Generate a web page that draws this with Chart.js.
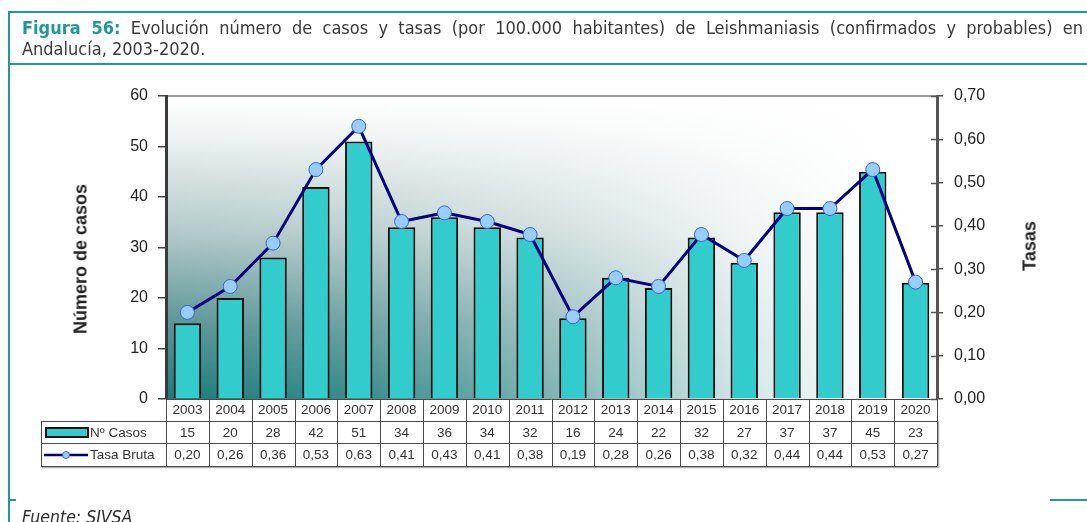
<!DOCTYPE html>
<html><head><meta charset="utf-8">
<script src="https://cdn.jsdelivr.net/npm/chart.js@4.4.0/dist/chart.umd.min.js"></script>
<style>
html,body{margin:0;padding:0;background:#fff;}
body{width:1087px;height:522px;overflow:hidden;position:relative;font-family:'Liberation Sans',Arial,sans-serif;}
.tl{position:absolute;background:#1f9a96;}
#title{position:absolute;left:22px;top:17px;width:1061px;font-family:'Liberation Sans Narrow','DejaVu Sans Condensed','Liberation Sans',sans-serif;font-size:18px;line-height:21px;color:#3a3a3a;}
#title .l1{text-align:justify;text-align-last:justify;}
#fig{color:#1f9a96;font-weight:bold;}
#foot{position:absolute;left:22px;top:507px;font-family:'Liberation Sans Narrow','DejaVu Sans Condensed','Liberation Sans',sans-serif;font-style:italic;font-size:17.5px;line-height:21px;color:#2a2a2a;white-space:nowrap;}
canvas{position:absolute;left:0;top:0;}
.at{position:absolute;transform:translate(-50%,-50%) rotate(-90deg);font-weight:bold;font-size:18px;color:#222;white-space:nowrap;font-family:'Liberation Sans',Arial,sans-serif;}
</style></head>
<body>
<canvas id="c" width="1087" height="522"></canvas>
<div class="tl" style="left:8px;top:11px;width:1079px;height:2px;"></div>
<div class="tl" style="left:8px;top:11px;width:2px;height:511px;"></div>
<div class="tl" style="left:8px;top:63px;width:1079px;height:2px;"></div>
<div class="tl" style="left:8px;top:499px;width:8px;height:2px;"></div>
<div class="tl" style="left:1050px;top:499px;width:37px;height:2px;"></div>
<div id="title"><div class="l1"><span id="fig">Figura 56:</span> Evolución número de casos y tasas (por 100.000 habitantes) de Leishmaniasis (confirmados y probables) en</div><div>Andalucía, 2003-2020.</div></div>
<div class="at" style="left:81px;top:259px;">Número de casos</div>
<div class="at" style="left:1030px;top:246px;">Tasas</div>
<div id="foot">Fuente: SIVSA</div>
<script>
const years = ['2003','2004','2005','2006','2007','2008','2009','2010','2011','2012','2013','2014','2015','2016','2017','2018','2019','2020'];
const casos = [15,20,28,42,51,34,36,34,32,16,24,22,32,27,37,37,45,23];
const tasas = [0.20,0.26,0.36,0.53,0.63,0.41,0.43,0.41,0.38,0.19,0.28,0.26,0.38,0.32,0.44,0.44,0.53,0.27];
const casosTickValues = [0,10,20,30,40,50,60];
const casosTickLabels = ['0','10','20','30','40','50','60'];
const tasasTickValues = [0,0.1,0.2,0.3,0.4,0.5,0.6,0.7];
const tasasTickLabels = ['0,00','0,10','0,20','0,30','0,40','0,50','0,60','0,70'];
const seriesNames = ['Nº Casos','Tasa Bruta'];

const fmt = v => v.toFixed(2).replace('.', ',');
const TABLE_FONT = '13.5px "Liberation Sans", Arial, sans-serif';
const BAR_COLOR = '#33CCCC', LINE_COLOR = '#000080', PT_FILL = '#99CCFF', PT_BORDER = '#3366CC';

const bgPlugin = {
  id: 'bg',
  beforeDraw(chart) {
    const {ctx, chartArea: a} = chart;
    ctx.save();
    const g = ctx.createLinearGradient(0, a.top, 0, a.bottom);
    g.addColorStop(0, '#ffffff');
    g.addColorStop(0.12, '#f1f4f4');
    g.addColorStop(0.45, '#b3c9c9');
    g.addColorStop(0.75, '#5c9696');
    g.addColorStop(1, '#1c7c7c');
    ctx.fillStyle = g;
    ctx.fillRect(a.left, a.top, a.right - a.left, a.bottom - a.top);
    const h = ctx.createLinearGradient(a.left, 0, a.right, 0);
    h.addColorStop(0, 'rgba(255,255,255,0)');
    h.addColorStop(0.25, 'rgba(255,255,255,0.12)');
    h.addColorStop(0.5, 'rgba(255,255,255,0.42)');
    h.addColorStop(0.75, 'rgba(255,255,255,0.8)');
    h.addColorStop(0.93, 'rgba(255,255,255,1)');
    h.addColorStop(1, 'rgba(255,255,255,1)');
    ctx.fillStyle = h;
    ctx.fillRect(a.left, a.top, a.right - a.left, a.bottom - a.top);
    ctx.strokeStyle = '#9a9a9a';
    ctx.lineWidth = 2;
    ctx.beginPath(); ctx.moveTo(a.left, a.top); ctx.lineTo(a.right, a.top); ctx.stroke();
    ctx.restore();
  }
};

const tablePlugin = {
  id: 'table',
  afterDraw(chart) {
    const {ctx, chartArea: a} = chart;
    const xs = chart.scales.x, yR = chart.scales.yR;
    const n = years.length;
    const w = (xs.right - xs.left) / n;
    const r0 = a.bottom, r1 = a.bottom + 22, r2 = a.bottom + 44, r3 = a.bottom + 67;
    const tl = 41;
    ctx.save();
    ctx.strokeStyle = '#555'; ctx.lineWidth = 1.5;
    yR.ticks.forEach(t => {
      const y = Math.round(yR.getPixelForValue(t.value)) + 0.5;
      ctx.beginPath(); ctx.moveTo(a.right - 6, y); ctx.lineTo(a.right, y); ctx.stroke();
    });
    ctx.strokeStyle = '#b0b0b0'; ctx.lineWidth = 1.5;
    ctx.beginPath(); ctx.moveTo(tl + 1, r3 + 1.5); ctx.lineTo(a.right + 1.5, r3 + 1.5); ctx.lineTo(a.right + 1.5, r1); ctx.stroke();
    ctx.strokeStyle = '#4a4a4a'; ctx.lineWidth = 1;
    ctx.beginPath();
    ctx.moveTo(a.left, r0 + 0.5); ctx.lineTo(a.right, r0 + 0.5);
    [r1, r2, r3].forEach(r => { ctx.moveTo(tl, r + 0.5); ctx.lineTo(a.right, r + 0.5); });
    ctx.moveTo(tl + 0.5, r1); ctx.lineTo(tl + 0.5, r3 + 0.5);
    for (let i = 0; i <= n; i++) {
      const x = Math.round(xs.left + i * w) + 0.5;
      ctx.moveTo(x, r0); ctx.lineTo(x, r3 + 0.5);
    }
    ctx.stroke();
    ctx.fillStyle = '#333';
    ctx.font = TABLE_FONT;
    ctx.textAlign = 'center';
    ctx.textBaseline = 'middle';
    for (let i = 0; i < n; i++) {
      const cx = xs.getPixelForValue(i);
      ctx.fillText(String(casos[i]), cx, (r1 + r2) / 2 + 1);
      ctx.fillText(fmt(tasas[i]), cx, (r2 + r3) / 2 + 1);
    }
    ctx.textAlign = 'left';
    ctx.fillText(seriesNames[0], 90, (r1 + r2) / 2 + 1);
    ctx.fillText(seriesNames[1], 90, (r2 + r3) / 2 + 1);
    ctx.fillStyle = BAR_COLOR; ctx.strokeStyle = '#111'; ctx.lineWidth = 2;
    ctx.fillRect(46, r1 + 7, 42, 9); ctx.strokeRect(46, r1 + 7, 42, 9);
    const ly = (r2 + r3) / 2 + 0.5;
    ctx.strokeStyle = LINE_COLOR; ctx.lineWidth = 2.5;
    ctx.beginPath(); ctx.moveTo(44, ly); ctx.lineTo(88, ly); ctx.stroke();
    ctx.fillStyle = PT_FILL; ctx.strokeStyle = PT_BORDER; ctx.lineWidth = 1;
    ctx.beginPath(); ctx.arc(66, ly, 3.5, 0, Math.PI * 2); ctx.fill(); ctx.stroke();
    ctx.restore();
  }
};

Chart.defaults.font.family = '"Liberation Sans", Arial, sans-serif';

new Chart(document.getElementById('c'), {
  data: {
    labels: years,
    datasets: [
      {
        type: 'line', label: seriesNames[1], data: tasas, yAxisID: 'yR', order: 0,
        borderColor: LINE_COLOR, borderWidth: 3, tension: 0,
        pointRadius: 7, pointBackgroundColor: PT_FILL, pointBorderColor: PT_BORDER, pointBorderWidth: 1
      },
      {
        type: 'bar', label: seriesNames[0], data: casos, yAxisID: 'yL', order: 1,
        backgroundColor: BAR_COLOR, borderColor: '#111', borderWidth: 2,
        barPercentage: 0.64, categoryPercentage: 1
      }
    ]
  },
  options: {
    responsive: false, animation: false,
    layout: { padding: { left: 0, right: 70, top: 96, bottom: 56 } },
    plugins: { legend: { display: false }, tooltip: { enabled: false } },
    scales: {
      x: {
        type: 'category', offset: true,
        grid: { display: false, drawTicks: false, tickLength: 0 },
        border: { display: false },
        ticks: { font: { size: 13.5 }, color: '#333', padding: 3, maxRotation: 0, autoSkip: false },
        afterFit(s) { s.height = 67; }
      },
      yL: {
        position: 'left', min: 0, max: 60,
        afterBuildTicks(s) { s.ticks = casosTickValues.map(v => ({ value: v })); },
        ticks: { callback: (v, i) => casosTickLabels[i], font: { size: 16 }, color: '#222', padding: 10 },
        grid: { drawOnChartArea: false, drawTicks: true, tickLength: 8, color: '#444', lineWidth: 1.5 },
        border: { color: '#3a3a3a', width: 3 },
        afterFit(s) { s.width = 166; }
      },
      yR: {
        position: 'right', min: 0, max: 0.7,
        afterBuildTicks(s) { s.ticks = tasasTickValues.map(v => ({ value: v })); },
        ticks: { callback: (v, i) => tasasTickLabels[i], font: { size: 16 }, color: '#222', padding: 11 },
        grid: { drawOnChartArea: false, drawTicks: true, tickLength: 6, color: '#555', lineWidth: 1.5 },
        border: { color: '#555', width: 3 },
        afterFit(s) { s.width = 80; }
      }
    }
  },
  plugins: [bgPlugin, tablePlugin]
});
</script>
</body></html>
